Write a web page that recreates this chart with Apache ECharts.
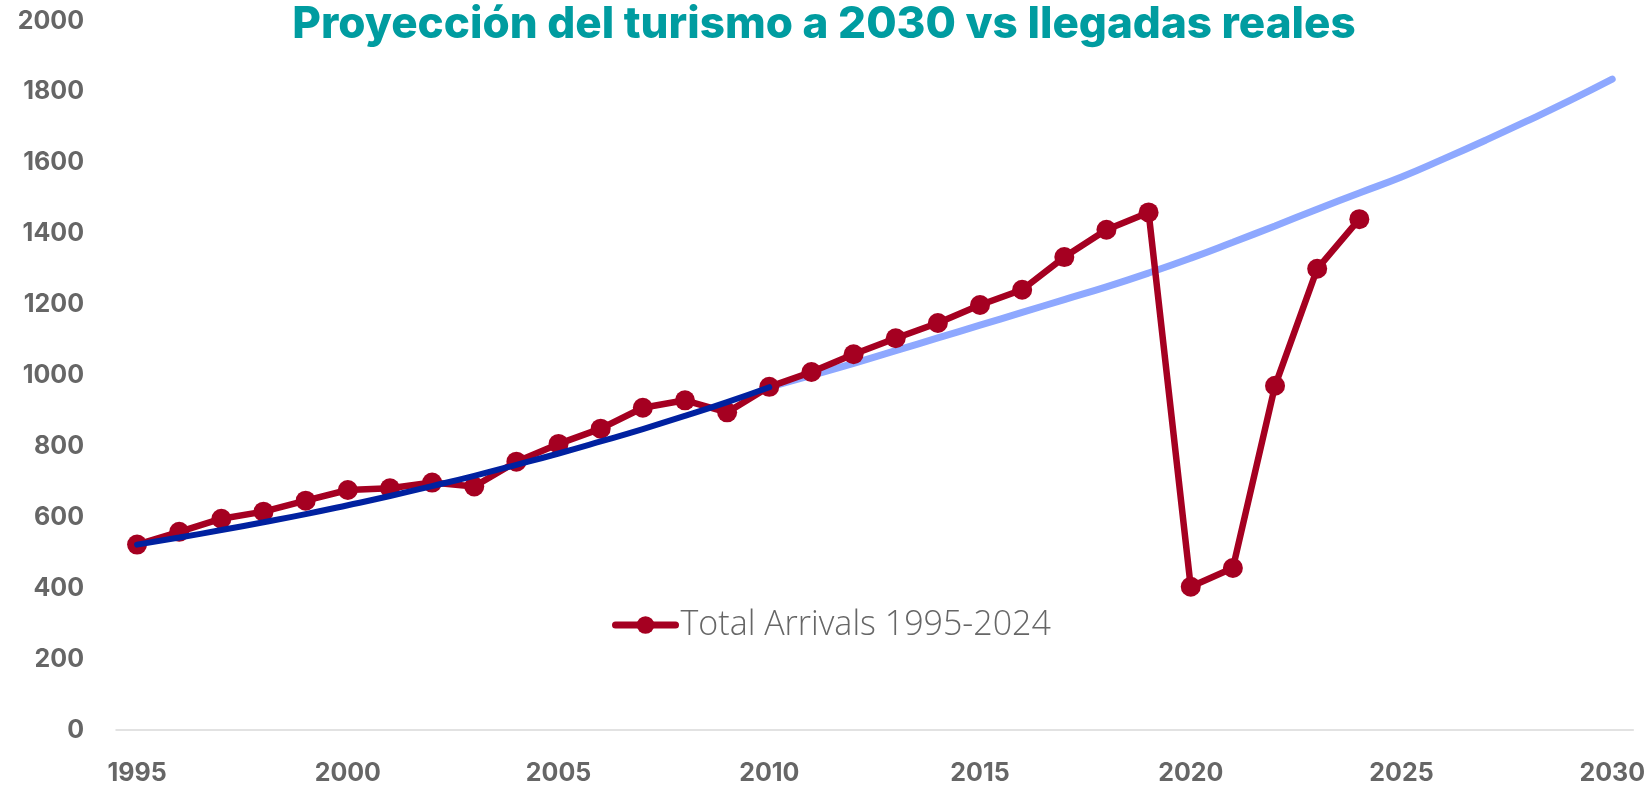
<!DOCTYPE html>
<html>
<head>
<meta charset="utf-8">
<title>Proyección del turismo a 2030</title>
<script src="https://cdn.jsdelivr.net/npm/echarts@6/dist/echarts.min.js"></script>
<style>
  html, body { margin: 0; padding: 0; background: #fff; }
  #chart { width: 1648px; height: 786px; }
</style>
</head>
<body>
<div id="chart"></div>
<script>
// años del eje x (1995 - 2030)
var years = [];
for (var y = 1995; y <= 2030; y++) years.push(String(y));

// llegadas reales 1995-2024 (millones)
var arrivals = [523, 559, 596, 616, 647, 677, 682, 698, 687, 757, 807, 850, 909, 930, 896, 968,
  1010, 1060, 1105, 1148, 1199, 1242, 1334, 1411, 1460, 404, 457, 971, 1301, 1441];

// tendencia ajustada 1995-2010
var trendFit = [523, 543, 564, 586, 609, 634, 660, 688, 717, 748, 780, 814, 849, 886, 925, 967];

// proyeccion 2010-2030
var projection = [967, 1000, 1034, 1070, 1106, 1142, 1178, 1214, 1250, 1289, 1331, 1376, 1422,
  1469, 1515, 1560, 1611, 1664, 1719, 1776, 1836];

var labelFont = 'Inter, "Open Sans", sans-serif';

// la proyeccion empieza en 2010, se rellena con '-' antes
var projData = [];
for (var i = 0; i < years.length - projection.length; i++) projData.push('-');
projData = projData.concat(projection);

var chart = echarts.init(document.getElementById('chart'));

var option = {
  backgroundColor: '#fff',
  animation: false,
  title: {
    text: 'Proyección del turismo a 2030 vs llegadas reales',
    left: 'center',
    top: -2,
    textStyle: {
      color: '#009ca0',
      fontFamily: labelFont,
      fontWeight: 800,
      fontSize: 44
    }
  },
  legend: {
    data: ['Total Arrivals 1995-2024'],
    left: 612,
    top: 608,
    padding: 0,
    itemWidth: 60,
    itemHeight: 22,
    itemGap: 5,
    lineStyle: { width: 7, cap: 'round' },
    textStyle: {
      color: '#666',
      fontFamily: '"Open Sans", Lato, sans-serif',
      fontWeight: 300,
      fontSize: 34
    }
  },
  grid: {
    left: 116,
    right: 14,
    top: 21,
    bottom: 55
  },
  xAxis: {
    type: 'category',
    data: years,
    boundaryGap: true,
    axisLine: {
      show: true,
      lineStyle: { color: '#d9d9d9', width: 1.5 }
    },
    axisTick: { show: false },
    axisLabel: {
      interval: 4,
      margin: 31,
      color: '#666',
      fontFamily: labelFont,
      fontWeight: 'bold',
      fontSize: 25
    },
    splitLine: { show: false }
  },
  yAxis: {
    type: 'value',
    min: 0,
    max: 2000,
    interval: 200,
    axisLine: { show: false },
    axisTick: { show: false },
    splitLine: { show: false },
    axisLabel: {
      margin: 32,
      color: '#666',
      fontFamily: labelFont,
      fontWeight: 'bold',
      fontSize: 25,
      formatter: function (v) { return String(v); }
    }
  },
  series: [
    {
      name: 'Proyección',
      type: 'line',
      data: projData,
      smooth: true,
      symbol: 'none',
      z: 1,
      lineStyle: { color: '#8ea8ff', width: 7, cap: 'round' }
    },
    {
      name: 'Total Arrivals 1995-2024',
      type: 'line',
      data: arrivals,
      symbol: 'circle',
      symbolSize: 20,
      z: 2,
      itemStyle: { color: '#a50021' },
      lineStyle: { color: '#a50021', width: 6.5 }
    },
    {
      name: 'Tendencia',
      type: 'line',
      data: trendFit,
      smooth: true,
      symbol: 'none',
      z: 3,
      lineStyle: { color: '#0021a0', width: 6, cap: 'round' }
    }
  ]
};

chart.setOption(option);
</script>
</body>
</html>
